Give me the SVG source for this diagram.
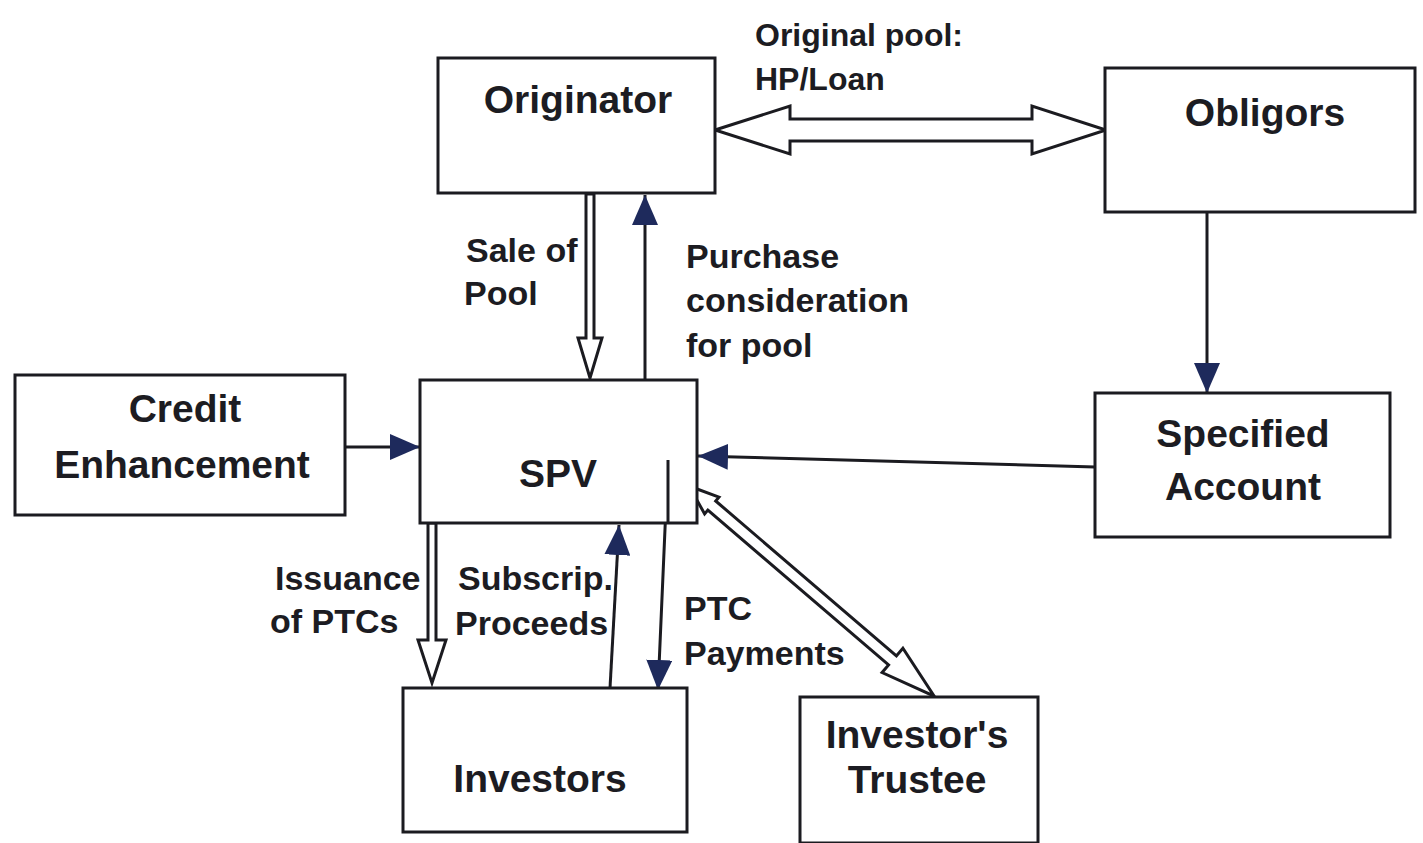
<svg xmlns="http://www.w3.org/2000/svg" width="1423" height="843" viewBox="0 0 1423 843">
  <style>
    .box { fill: #ffffff; stroke: #1b1b20; stroke-width: 3; }
    .lbl { font-family: "Liberation Sans", Arial, sans-serif; font-weight: bold; fill: #1c1c22; }
    .node { font-size: 39px; text-anchor: middle; }
    .edge { font-size: 34px; }
    .small { font-size: 32px; }
    .line { fill: none; stroke: #1b1b20; stroke-width: 3; }
    .hollow { fill: #ffffff; stroke: #1b1b20; stroke-width: 3; stroke-linejoin: miter; }
  </style>
  <defs>
    <marker id="headBig" viewBox="0 0 30 26" refX="30" refY="13" markerWidth="30" markerHeight="26" markerUnits="userSpaceOnUse" orient="auto">
      <path d="M0,0 L30,13 L0,26 Z" fill="#1e2a5c"/>
    </marker>
  </defs>

  <rect width="1423" height="843" fill="#ffffff"/>

  <!-- connectors -->
  <g id="connectors">
    <!-- Originator <-> Obligors : original pool -->
    <polygon class="hollow" points="715,130 790,106 790,119 1032,119 1032,106 1106,130 1032,154 1032,141 790,141 790,154"/>
    <!-- Originator -> SPV : sale of pool -->
    <polygon class="hollow" points="586,194 594,194 594,338 602,338 590,378 578,338 586,338"/>
    <!-- SPV -> Originator : purchase consideration -->
    <line class="line" x1="645" y1="379" x2="645" y2="195" marker-end="url(#headBig)"/>
    <!-- Credit Enhancement -> SPV -->
    <line class="line" x1="345" y1="447" x2="420" y2="447" marker-end="url(#headBig)"/>
    <!-- Obligors -> Specified Account -->
    <line class="line" x1="1207" y1="212" x2="1207" y2="393" marker-end="url(#headBig)"/>
    <!-- Specified Account -> SPV -->
    <line class="line" x1="1095" y1="467" x2="698" y2="456" marker-end="url(#headBig)"/>
    <!-- SPV -> Investors : issuance of PTCs -->
    <polygon class="hollow" points="428,523 436,523 436,640 446,640 432,683 418,640 428,640"/>
    <!-- Investors -> SPV : subscription proceeds -->
    <line class="line" x1="610" y1="688" x2="619" y2="525" marker-end="url(#headBig)"/>
    <!-- SPV -> Investors : PTC payments -->
    <path class="line" d="M697,460 H668 L658,690" marker-end="url(#headBig)"/>
    <!-- SPV <-> Investor's Trustee -->
    <g transform="translate(689,486) rotate(40.6)">
      <polygon class="hollow" points="0,0 30,-11 30,-6 268,-6 268,-16 323,0 268,16 268,6 30,6 30,11"/>
    </g>
  </g>

  <!-- nodes -->
  <g id="originator">
    <rect class="box" x="438" y="58" width="277" height="135"/>
    <text class="lbl node" x="578" y="113">Originator</text>
  </g>
  <g id="obligors">
    <rect class="box" x="1105" y="68" width="310" height="144"/>
    <text class="lbl node" x="1265" y="126">Obligors</text>
  </g>
  <g id="credit-enhancement">
    <rect class="box" x="15" y="375" width="330" height="140"/>
    <text class="lbl node" x="185" y="422">Credit</text>
    <text class="lbl node" x="182" y="478">Enhancement</text>
  </g>
  <g id="spv">
    <rect class="box" x="420" y="380" width="277" height="143"/>
    <line class="line" x1="668" y1="460" x2="668" y2="523"/>
    <text class="lbl node" x="558" y="487">SPV</text>
  </g>
  <g id="specified-account">
    <rect class="box" x="1095" y="393" width="295" height="144"/>
    <text class="lbl node" x="1243" y="447">Specified</text>
    <text class="lbl node" x="1243" y="500">Account</text>
  </g>
  <g id="investors">
    <rect class="box" x="403" y="688" width="284" height="144"/>
    <text class="lbl node" x="540" y="792">Investors</text>
  </g>
  <g id="investors-trustee">
    <rect class="box" x="800" y="697" width="238" height="146"/>
    <text class="lbl node" x="917" y="748">Investor's</text>
    <text class="lbl node" x="917" y="793">Trustee</text>
  </g>

  <!-- connector labels -->
  <g id="edge-labels">
    <text class="lbl small" x="755" y="46">Original pool:</text>
    <text class="lbl small" x="755" y="90">HP/Loan</text>
    <text class="lbl edge" x="466" y="262">Sale of</text>
    <text class="lbl edge" x="464" y="305">Pool</text>
    <text class="lbl edge" x="686" y="268">Purchase</text>
    <text class="lbl edge" x="686" y="312">consideration</text>
    <text class="lbl edge" x="686" y="357">for pool</text>
    <text class="lbl edge" x="275" y="590">Issuance</text>
    <text class="lbl edge" x="270" y="633">of PTCs</text>
    <text class="lbl edge" x="458" y="590">Subscrip.</text>
    <text class="lbl edge" x="455" y="635">Proceeds</text>
    <text class="lbl edge" x="684" y="620">PTC</text>
    <text class="lbl edge" x="684" y="665">Payments</text>
  </g>
</svg>
